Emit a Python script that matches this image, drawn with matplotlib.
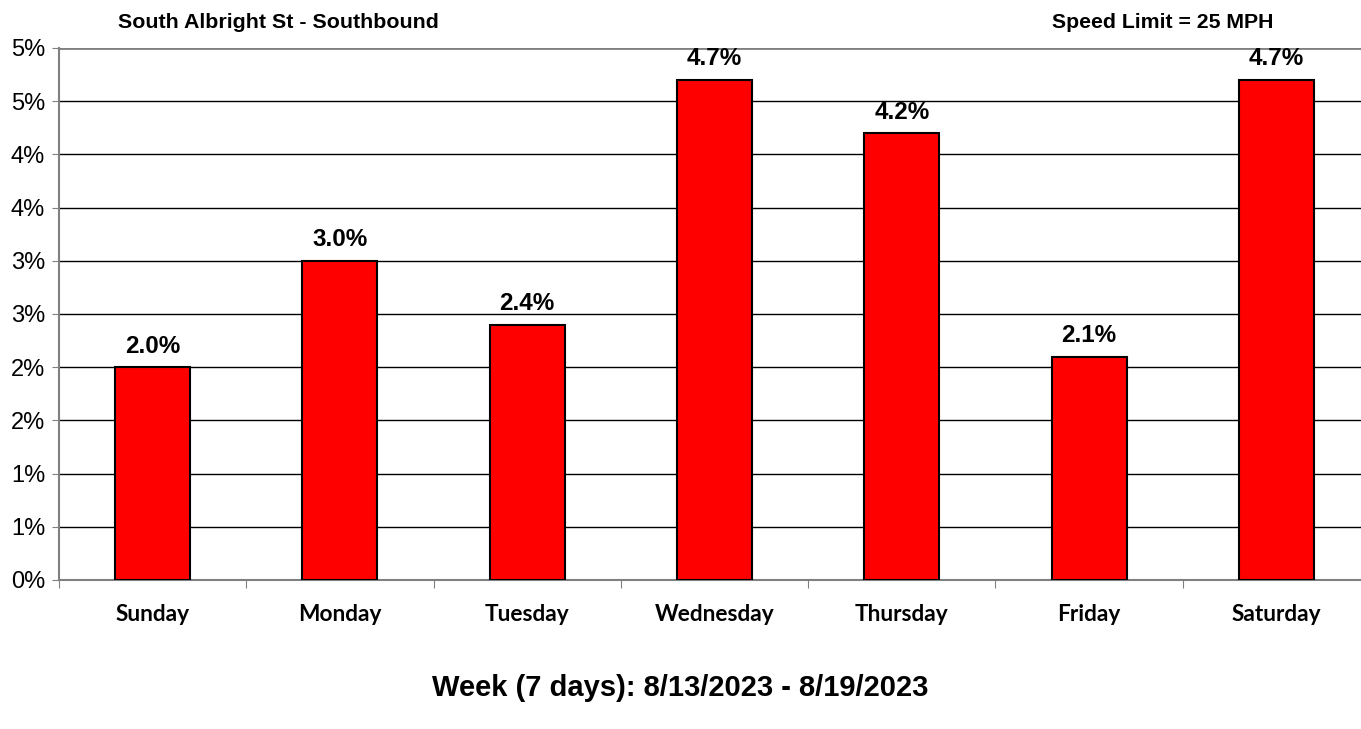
import matplotlib
matplotlib.use("Agg")
import matplotlib.pyplot as plt
import numpy as np
from decimal import Decimal, ROUND_HALF_UP

days = ["Sunday", "Monday", "Tuesday", "Wednesday", "Thursday", "Friday", "Saturday"]
pct = [2.0, 3.0, 2.4, 4.7, 4.2, 2.1, 4.7]
yticks = [0, 0.5, 1.0, 1.5, 2.0, 2.5, 3.0, 3.5, 4.0, 4.5, 5.0]
title_left = "South Albright St - Southbound"
title_right = "Speed Limit = 25 MPH"
xlabel = "Week (7 days): 8/13/2023 - 8/19/2023"

W, H = 1361, 729
fig = plt.figure(figsize=(W / 100, H / 100), dpi=100)
ax = fig.add_axes([59 / W, 149 / H, (1370 - 59) / W, (580 - 48) / H])

x = np.arange(len(days))
ax.bar(x, pct, width=0.4, color="#ff0000", edgecolor="black", linewidth=1.5, zorder=3)
for xi, v in zip(x, pct):
    ax.text(xi, v + 0.09, f"{v:.1f}%", ha="center", va="bottom",
            fontsize=17.5, fontweight="bold", family="Liberation Sans")

ax.set_xlim(-0.5, len(days) - 0.5)
ax.set_ylim(0, 5.0)
ax.set_yticks(yticks)
ax.set_yticklabels([f"{int(Decimal(str(t)).quantize(Decimal('1'), rounding=ROUND_HALF_UP))}%" for t in yticks],
                   family="Liberation Sans", fontsize=17)
for t in yticks[1:-1]:
    ax.axhline(t, color="black", linewidth=1, zorder=1)
ax.axhline(5.0, color="#808080", linewidth=2, zorder=1)

ax.set_xticks(np.arange(-0.5, len(days), 1.0))
ax.set_xticklabels([])
ax.set_xticks(x, minor=True)
ax.set_xticklabels(days, minor=True, fontsize=16.3, fontweight="bold", family="Lato")
ax.tick_params(axis="x", which="minor", length=0, pad=17)
ax.tick_params(axis="x", which="major", length=6, color="#808080", direction="out")
ax.tick_params(axis="y", length=5, color="#808080", pad=5)

for s in ["top", "right"]:
    ax.spines[s].set_visible(False)
for s in ["left", "bottom"]:
    ax.spines[s].set_color("#808080")
    ax.spines[s].set_linewidth(1.5)

fig.text(118 / W, 1 - 22 / H, title_left, fontsize=15.4, fontweight="bold",
         family="Liberation Sans", va="center", ha="left")
fig.text(1052 / W, 1 - 22 / H, title_right, fontsize=15.3, fontweight="bold",
         family="Liberation Sans", va="center", ha="left")
fig.text(680 / W, 1 - 688 / H, xlabel, fontsize=21, fontweight="bold",
         family="Liberation Sans", va="center", ha="center")

fig.savefig("out.png", dpi=100)
